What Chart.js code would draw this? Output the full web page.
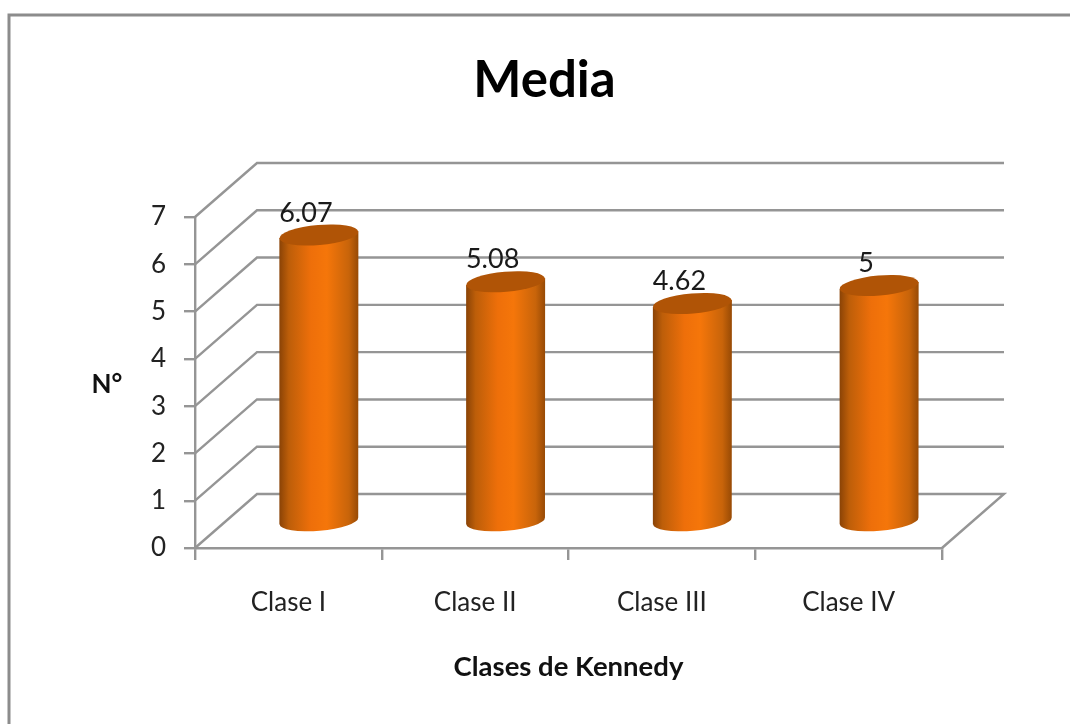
<!DOCTYPE html>
<html><head><meta charset="utf-8">
<style>html,body{margin:0;padding:0;background:#fff}#w{width:1070px;height:724px;overflow:hidden}canvas{display:block;filter:blur(0.45px)}</style>
<script src="https://cdn.jsdelivr.net/npm/chart.js@4"></script></head>
<body><div id="w"><canvas id="c" width="1070" height="724"></canvas></div>
<script>
const categories = ["Clase I","Clase II","Clase III","Clase IV"];
const values = [6.07,5.08,4.62,5];
const valueLabels = ["6.07","5.08","4.62","5"];
const chartTitle = "Media";
const xTitle = "Clases de Kennedy";
const yTitle = "N°";
const GRID = "#959595";
const DEPTH = {x:62,y:-54};
const BAR = {x:30.5,y:-26,rot:-0.085,ry:10};
const FONT = 'Lato,"Liberation Sans",sans-serif';

const depthPlugin = {
  id:'depth',
  beforeDraw(ch){
    const c=ch.ctx;c.save();
    c.fillStyle='#fff';c.fillRect(0,0,ch.width,ch.height);
    c.strokeStyle='#8c8c8c';c.lineWidth=3;
    c.beginPath();c.moveTo(9,ch.height+5);c.lineTo(9,15);c.lineTo(ch.width+5,15);c.stroke();
    c.restore();
  },
  beforeDatasetsDraw(ch){
    const c=ch.ctx,y=ch.scales.y,a=ch.chartArea;
    c.save();c.strokeStyle=GRID;c.lineWidth=2.4;c.lineJoin='miter';
    y.ticks.forEach(t=>{
      const p=y.getPixelForValue(t.value);
      c.beginPath();c.moveTo(a.left,p);c.lineTo(a.left+DEPTH.x,p+DEPTH.y);c.lineTo(a.right+DEPTH.x,p+DEPTH.y);
      if(t.value===0)c.lineTo(a.right,p);
      c.stroke();
    });
    c.restore();
  },
  afterDatasetsDraw(ch){
    const c=ch.ctx,meta=ch.getDatasetMeta(0);
    meta.data.forEach((b,i)=>{
      const cx=b.x+BAR.x, rx=b.width/2, top=b.y+BAR.y, bot=b.base+BAR.y;
      const dy=rx*Math.sin(BAR.rot);
      const g=c.createLinearGradient(cx-rx,0,cx+rx,0);
      g.addColorStop(0,'#8a4306');g.addColorStop(0.12,'#bd5e09');g.addColorStop(0.4,'#ee6f0a');
      g.addColorStop(0.6,'#f5760a');g.addColorStop(0.88,'#c8640a');g.addColorStop(1,'#974a05');
      c.save();c.fillStyle=g;c.beginPath();
      c.moveTo(cx-rx,top-dy);
      c.lineTo(cx-rx,bot-dy);
      c.ellipse(cx,bot,rx,BAR.ry,BAR.rot,Math.PI,0,true);
      c.lineTo(cx+rx,top+dy);
      c.closePath();c.fill();
      c.fillStyle='#b05406';c.beginPath();c.ellipse(cx,top,rx,BAR.ry,BAR.rot,0,Math.PI*2);c.fill();
      c.fillStyle='#1a1a1a';c.font='27px '+FONT;c.textAlign='center';c.textBaseline='middle';
      c.fillText(valueLabels[i],cx-13,top-22);
      c.restore();
    });
  },
  afterDraw(ch){
    const c=ch.ctx;c.save();c.fillStyle='#111';c.font='bold 26px '+FONT;
    c.textAlign='center';c.textBaseline='middle';c.fillText(yTitle,107,385);c.restore();
  }
};

new Chart(document.getElementById('c'),{
  type:'bar',
  data:{labels:categories,datasets:[{data:values,backgroundColor:'rgba(0,0,0,0)',barThickness:79}]},
  plugins:[depthPlugin],
  options:{
    responsive:false,animation:false,
    layout:{padding:{left:147,right:128,top:0,bottom:0}},
    plugins:{
      legend:{display:false},tooltip:{enabled:false},
      title:{display:true,text:chartTitle,color:'#000',font:{family:FONT,size:51,weight:'bold',lineHeight:1.2},padding:{top:50,bottom:105.8}}
    },
    scales:{
      x:{
        afterFit(s){s.height=176;},
        grid:{drawOnChartArea:false,color:GRID,lineWidth:2.4,tickLength:12,offset:true},
        border:{display:true,color:GRID,width:2.4},
        ticks:{color:'#222',padding:27,font:{family:FONT,size:26},maxRotation:0},
        title:{display:true,text:xTitle,color:'#111',font:{family:FONT,size:27.5,weight:'bold'},padding:{top:0,bottom:40}}
      },
      y:{
        min:0,max:7,
        afterFit(s){s.width=48;},
        grid:{drawOnChartArea:false,color:GRID,lineWidth:2.4,tickLength:11},
        border:{display:true,color:GRID,width:2.4},
        ticks:{stepSize:1,color:'#222',padding:18,font:{family:FONT,size:26}}
      }
    }
  }
});
</script></body></html>
